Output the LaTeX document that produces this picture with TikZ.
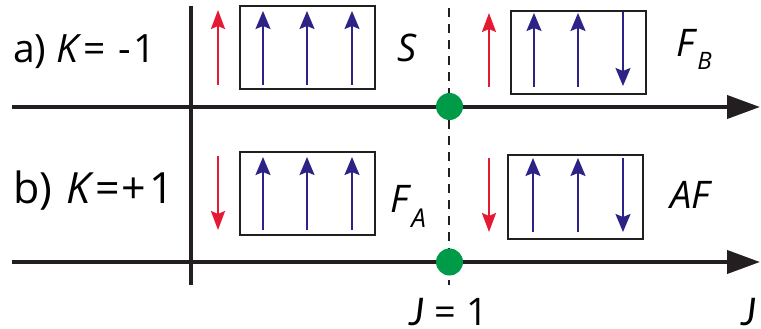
\documentclass[tikz,border=0pt]{standalone}
\usepackage{fontspec}
\setmainfont{Open Sans}
\newfontfamily\jfont{Lato}
\usetikzlibrary{arrows.meta}
\definecolor{spinred}{RGB}{230,25,50}
\definecolor{spinblue}{RGB}{45,35,135}
\definecolor{dotgreen}{RGB}{0,155,72}
\definecolor{ink}{RGB}{35,31,32}
\tikzset{
  axis/.style={draw=ink,line width=4pt,-{Triangle[length=33pt,width=23pt]}},
  vaxis/.style={draw=ink,line width=4pt},
  crit/.style={draw=ink,line width=1.5pt,dash pattern=on 9pt off 7pt},
  redspin/.style={draw=spinred,line width=2pt,-{Stealth[length=19pt,width=14pt,inset=3pt]}},
  bluespin/.style={draw=spinblue,line width=2pt,-{Stealth[length=18pt,width=15pt,inset=3pt]}},
  cellbox/.style={draw=ink,line width=2pt},
  dot/.style={circle,fill=dotgreen,inner sep=0pt,minimum size=27pt},
  lbl/.style={inner sep=0pt,font=\fontsize{38}{38}\selectfont},
  big/.style={inner sep=0pt,font=\fontsize{39}{39}\selectfont},
}
\begin{document}
\begin{tikzpicture}[x=1pt,y=-1pt]
\useasboundingbox (0,0) rectangle (761,329);
% axes
\coordinate (a0) at (12,107);
\coordinate (a1) at (760,107);
\coordinate (b0) at (12,262);
\coordinate (b1) at (760,262);
\coordinate (v0) at (191,6);
\coordinate (v1) at (191,285);
\coordinate (d0) at (449,8);
\coordinate (d1) at (449,285);
\draw[crit] (d0) -- (d1);
\draw[vaxis] (v0) -- (v1);
\draw[axis] (a0) -- (a1);
\draw[axis] (b0) -- (b1);
\node[dot] (pa) at (449.5,106.5) {};
\node[dot] (pb) at (449.5,262) {};
% row labels
\node[big,anchor=base west] (la) at (13,63) {a) \textit{K}\hspace{2pt}=\hspace{2pt} -\hspace{3pt}1};
\node[big,anchor=base west,font=\fontsize{43}{43}\selectfont] (lb) at (13,203) {b)\hspace{3pt} \textit{K}\hspace{1pt}=\hspace{2pt}+\hspace{3pt}1};
% phase labels
\node[lbl,anchor=base] (S) at (407.5,62) {\textit{S}};
\node[lbl,anchor=base west] (FB) at (676,57) {\textit{F}\raisebox{-13pt}{\fontsize{24}{24}\selectfont\textit{B}}};
\node[lbl,anchor=base west] (FA) at (390,212) {\textit{F}\raisebox{-15pt}{\fontsize{26}{26}\selectfont\textit{A}}};
\node[lbl,anchor=base west] (AF) at (670,208) {\textit{AF}};
\node[lbl,anchor=base] (J1) at (449,325) {{\jfont\itshape J} = 1};
\node[lbl,anchor=base west] (J) at (741,325) {{\jfont\itshape J}};
% boxes
\draw[cellbox] (240,6) rectangle (375,89);
\draw[cellbox] (511,11) rectangle (646,94);
\draw[cellbox] (240,152) rectangle (375,235);
\draw[cellbox] (508,155) rectangle (643,239);
% red spins
\draw[redspin] (218,85) -- (218,10);
\draw[redspin] (489,87) -- (489,13);
\draw[redspin] (218,156) -- (218,230);
\draw[redspin] (489,158) -- (489,232);
% blue spins a)
\foreach \x in {263,307,352} \draw[bluespin] (\x,85) -- (\x,11);
\foreach \x in {534,578} \draw[bluespin] (\x,87) -- (\x,13);
\draw[bluespin] (623,12) -- (623,86);
% blue spins b)
\foreach \x in {263,307,352} \draw[bluespin] (\x,230) -- (\x,157);
\foreach \x in {533,578} \draw[bluespin] (\x,232) -- (\x,158);
\draw[bluespin] (623,158) -- (623,232);
\end{tikzpicture}
\end{document}
